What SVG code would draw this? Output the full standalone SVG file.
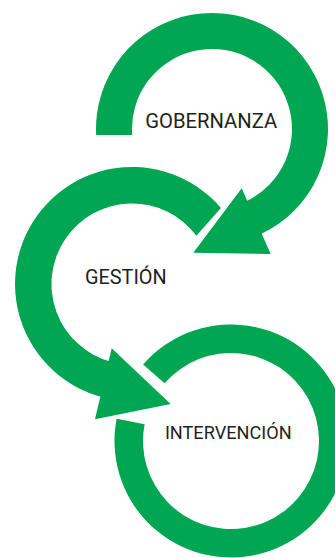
<svg xmlns="http://www.w3.org/2000/svg" width="335" height="558" viewBox="0 0 335 558">
  <style>
    .ring { fill: #00A651; }
    .head { fill: #00A651; }
    .label { font-family: Roboto, "Liberation Sans", sans-serif; fill: #231F20; text-anchor: middle; }
  </style>
  <rect width="335" height="558" fill="#FFFFFF"/>
  <g id="node-gobernanza">
    <path class="ring" d="M96.15,135 A116,116 0 1 1 261.0,234.1 L245.8,201.5 A80,80 0 1 0 132.2,135 Z"/>
    <text class="label" x="211.2" y="127.7" font-size="19.5" textLength="132" lengthAdjust="spacingAndGlyphs">GOBERNANZA</text>
  </g>
  <g id="node-gestion">
    <path class="ring" d="M220.9,207.9 A117,117 0 1 0 101.72,397.01 L111.17,361.76 A80.5,80.5 0 1 1 196.4,235.7 Z"/>
    <text class="label" x="125.8" y="284" font-size="19.5" textLength="81.7" lengthAdjust="spacingAndGlyphs">GESTIÓN</text>
  </g>
  <g id="node-intervencion">
    <path class="ring" d="M143.08,364.56 A116.5,116.5 0 1 1 116.64,418.77 L144.62,424.21 A88,88 0 1 0 164.59,383.26 Z"/>
    <text class="label" x="228.3" y="439.3" font-size="18.5" textLength="126.7" lengthAdjust="spacingAndGlyphs">INTERVENCIÓN</text>
  </g>
  <g id="connectors">
    <polygon class="head" points="241.7,188.3 270.7,254 193.3,252.7"/>
    <polygon class="head" points="111.7,348.3 170.7,404 95,419.3"/>
  </g>
</svg>
